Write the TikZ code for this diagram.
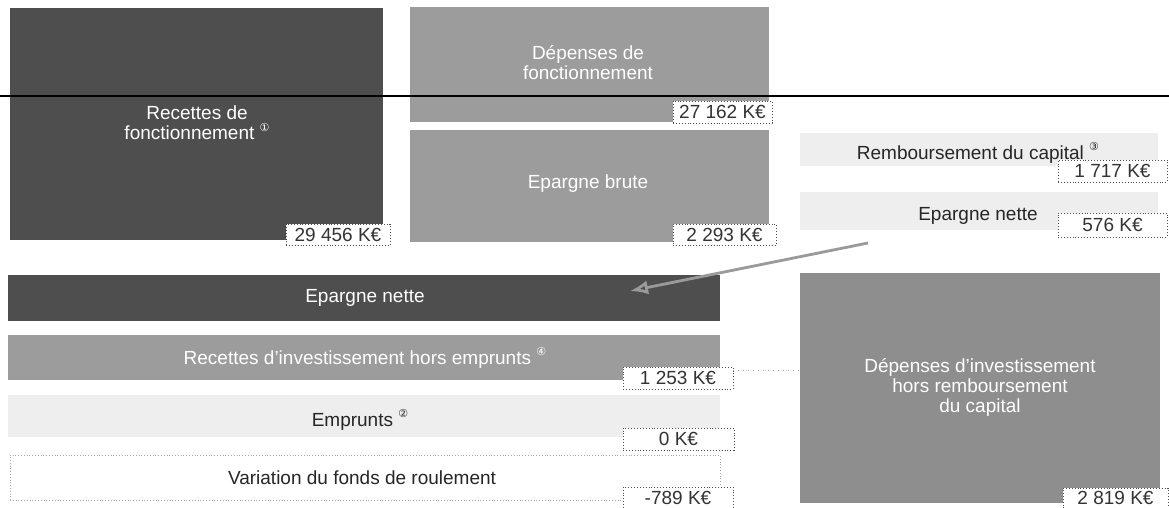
\documentclass[tikz,border=0pt]{standalone}
\usepackage{fontspec}
\setmainfont{Liberation Sans}
\newfontfamily\dejavu{DejaVu Sans}
\usetikzlibrary{arrows.meta,fit}
\definecolor{darkfill}{HTML}{4E4E4E}
\definecolor{midfill}{HTML}{9C9C9C}
\definecolor{midfilltwo}{HTML}{8E8E8E}
\definecolor{lightfill}{HTML}{EEEEEE}
\definecolor{valtext}{HTML}{333333}
\definecolor{arrowgray}{HTML}{9A9A9A}
\newcommand{\fnmark}[1]{\raisebox{0.85ex}{\dejavu\fontsize{5.5}{5.5}\selectfont #1}}
\begin{document}
\begin{tikzpicture}[x=0.5pt,y=-0.5pt,
  every node/.style={font=\fontsize{9.5}{10}\selectfont},
  area/.style={inner sep=0pt, outer sep=0pt, draw=none},
  darkarea/.style={area, fill=darkfill},
  midarea/.style={area, fill=midfill},
  midareatwo/.style={area, fill=midfilltwo},
  lightarea/.style={area, fill=lightfill},
  whitearea/.style={area, fill=white, draw=gray!70, densely dotted, line width=0.4pt},
  wtext/.style={text=white, align=center, inner sep=0pt},
  btext/.style={text=black!85, align=center, inner sep=0pt},
  valbox/.style={inner sep=0pt, outer sep=0pt, fill=white, draw=gray!60!black, densely dotted, line width=0.45pt, text=valtext},
  dotline/.style={draw=gray!70, dotted, line width=0.5pt},
  flowarrow/.style={draw=arrowgray, line width=1.4pt, -{Latex[open,length=9pt,width=7pt]}}
]
\useasboundingbox (0,0) rectangle (1169,508);
\fill[white] (0,0) rectangle (1169,508);

% top row
\node[darkarea, fit={(10,8) (383,240)}] (rf) {};
\node[wtext] (rft) at (197,123) {Recettes de\\fonctionnement \fnmark{①}};
\node[midarea, fit={(410,7) (769,122)}] (df) {};
\node[wtext] (dft) at (588,63) {Dépenses de\\fonctionnement};
\node[midarea, fit={(410,130) (769,242)}] (eb) {};
\node[wtext] (ebt) at (588,184) {Epargne brute};

% right column
\node[lightarea, fit={(800,133) (1158,166)}] (rc) {};
\node[btext] (rct) at (978,153) {Remboursement du capital \fnmark{③}};
\node[lightarea, fit={(800,192) (1158,230)}] (en2) {};
\node[btext] (en2t) at (978,216) {Epargne nette};
\node[midareatwo, fit={(800,273) (1160,503)}] (dinv) {};
\node[wtext] (dinvt) at (980,387) {Dépenses d'investissement\\hors remboursement\\du capital};

% bottom-left bars
\node[darkarea, fit={(8,275) (720,321)}] (en1) {};
\node[wtext] (en1t) at (365,298) {Epargne nette};
\node[midarea, fit={(8,335) (720,380)}] (ri) {};
\node[wtext] (rit) at (365,358) {Recettes d'investissement hors emprunts \fnmark{④}};
\node[lightarea, fit={(8,395) (720,437)}] (em) {};
\node[btext] (emt) at (360,420) {Emprunts \fnmark{②}};
\node[whitearea, fit={(10,455) (720,500)}] (vf) {};
\node[btext] (vft) at (362,478) {Variation du fonds de roulement};

% black horizontal line
\coordinate (hl1) at (0,96);
\coordinate (hl2) at (1169,96);
\draw[black, line width=1pt] (hl1) -- (hl2);

% value boxes
\node[valbox, fit={(286,224) (390,245)}] (v1) {};
\node (v1t) at (v1.center) {\color{valtext}29 456 K€};
\node[valbox, fit={(673,101) (772,123)}] (v2) {};
\node (v2t) at (v2.center) {\color{valtext}27 162 K€};
\node[valbox, fit={(673,224) (776,245)}] (v3) {};
\node (v3t) at (v3.center) {\color{valtext}2 293 K€};
\node[valbox, fit={(1058,160) (1167,182)}] (v4) {};
\node (v4t) at (v4.center) {\color{valtext}1 717 K€};
\node[valbox, fit={(1058,213) (1167,237)}] (v5) {};
\node (v5t) at (v5.center) {\color{valtext}576 K€};
\node[valbox, fit={(623,367) (733,389)}] (v6) {};
\node (v6t) at (v6.center) {\color{valtext}1 253 K€};
\node[valbox, fit={(623,428) (734,450)}] (v7) {};
\node (v7t) at (v7.center) {\color{valtext}0 K€};
\node[valbox, fit={(623,487) (733,508)}] (v8) {};
\node (v8t) at (v8.center) {\color{valtext}-789 K€};
\node[valbox, fit={(1063,488) (1168,508)}] (v9) {};
\node (v9t) at (v9.center) {\color{valtext}2 819 K€};

% dotted connector from 1 253 K€ to investment box
\draw[dotline] ([yshift=-1.5pt]v6.north east) -- ([yshift=-1.5pt]v6.north east -| dinv.west);

% arrow from right Epargne nette to left Epargne nette bar
\coordinate (astart) at (868,243);
\coordinate (aend) at (630,291);
\draw[flowarrow] (astart) -- (aend);
\end{tikzpicture}
\end{document}
